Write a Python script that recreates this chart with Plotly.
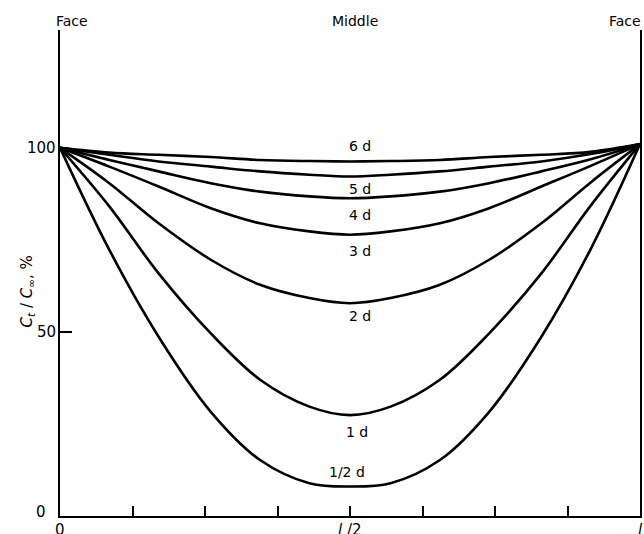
import plotly.graph_objects as go

# position through the slab, as a fraction of thickness l
x_pos = [0, 0.085, 0.17, 0.26, 0.345, 0.43, 0.5, 0.57, 0.655, 0.74, 0.83, 0.915, 1.0]

# C_t / C_inf, %
c_6d = [100, 98.7, 98.1, 97.5, 96.7, 96.4, 96.3, 96.4, 96.7, 97.5, 98.1, 98.9, 101]
c_5d = [100, 98.1, 96.3, 94.9, 93.6, 92.7, 92.2, 92.7, 93.6, 94.9, 96.3, 98.3, 101]
c_4d = [100, 96.7, 93.6, 90.4, 88.1, 86.8, 86.3, 86.8, 88.1, 90.4, 93.6, 96.9, 101]
c_3d = [100, 94.9, 89.5, 83.6, 79.5, 77.3, 76.4, 77.3, 79.5, 83.6, 89.5, 95.1, 101]
c_2d = [100, 90.4, 79.5, 69.6, 62.8, 59.2, 57.8, 59.2, 62.8, 69.6, 79.5, 90.6, 101]
c_1d = [100, 84.1, 65.9, 49.6, 37.0, 29.7, 27.4, 29.7, 37.0, 49.6, 65.9, 84.3, 101]
c_half = [100, 72.3, 48.7, 28.3, 15.2, 8.9, 8.0, 8.9, 15.2, 28.3, 48.7, 72.5, 101]

series = [c_6d, c_5d, c_4d, c_3d, c_2d, c_1d, c_half]
curve_labels = ["6 d", "5 d", "4 d", "3 d", "2 d", "1 d", "1/2 d"]
label_x = [0.517, 0.517, 0.517, 0.517, 0.517, 0.512, 0.495]
label_y = [100.4, 88.8, 81.8, 72.1, 54.2, 22.9, 12.0]

y_tick_vals = [0, 50, 100]
y_tick_text = ["0", "50", "100"]
x_tick_vals = [0, 0.125, 0.25, 0.375, 0.5, 0.625, 0.75, 0.875, 1.0]
x_label_vals = [0, 0.5, 1.0]
x_label_text = ["0", "<i>l</i> /2", "<i>l</i>"]
top_labels = ["Face", "Middle", "Face"]
top_label_x = [0.0, 0.5, 1.0]

FONT = "DejaVu Sans"

fig = go.Figure()
for ys in series:
    fig.add_trace(go.Scatter(
        x=x_pos, y=ys, mode="lines",
        line=dict(color="black", width=2.6, shape="spline", smoothing=1.0),
        showlegend=False, hoverinfo="skip"))

ann = []
for t, xv, yv in zip(curve_labels, label_x, label_y):
    ann.append(dict(x=xv, y=yv, xref="x", yref="y", text=t, showarrow=False,
                    font=dict(family=FONT, size=14, color="black")))
for t, yv in zip(y_tick_text, y_tick_vals):
    ann.append(dict(x=0, y=yv, xref="paper", yref="y", text=t, showarrow=False,
                    xanchor="right", xshift=-2 if t != "0" else -12,
                    yshift=0 if t != "0" else 4,
                    font=dict(family=FONT, size=15, color="black")))
for t, xv in zip(x_label_text, x_label_vals):
    ann.append(dict(x=xv, y=0, xref="x", yref="paper", text=t, showarrow=False,
                    yanchor="top", yshift=-3,
                    font=dict(family=FONT, size=15, color="black")))
for t, xv in zip(top_labels, top_label_x):
    ann.append(dict(x=xv, y=1.0, xref="x", yref="paper", text=t, showarrow=False,
                    yanchor="bottom", yshift=-1,
                    xshift=(12 if xv == 0 else (5 if xv == 0.5 else -15)),
                    font=dict(family=FONT, size=14, color="black")))
ann.append(dict(x=0, y=61, xref="paper", yref="y", xanchor="center", yanchor="middle",
                xshift=-33, textangle=-90, showarrow=False,
                text="<i>C</i><sub><i>t</i></sub> / <i>C</i><sub>∞</sub>, %",
                font=dict(family=FONT, size=15, color="black")))

fig.update_layout(
    width=644, height=534,
    margin=dict(l=60, r=2, t=30, b=18),
    paper_bgcolor="white", plot_bgcolor="white",
    annotations=ann,
    xaxis=dict(range=[0, 1], showgrid=False, zeroline=False,
               showline=True, linecolor="black", linewidth=1.5,
               tickmode="array", tickvals=x_tick_vals, ticks="inside",
               ticklen=10, tickwidth=1.5, tickcolor="black", showticklabels=False),
    yaxis=dict(range=[0, 132], showgrid=False, zeroline=False,
               showline=True, linecolor="black", linewidth=1.5, mirror=True,
               tickmode="array", tickvals=[50], ticks="inside",
               ticklen=12, tickwidth=1.5, tickcolor="black", showticklabels=False),
)

fig.write_html("out.html", config={"displayModeBar": False})

# remove the default page margin so the figure sits at the window's corner
with open("out.html", "r", encoding="utf-8") as f:
    html = f.read()
html = html.replace("<body>", "<body style=\"margin:0;overflow:hidden\">", 1)
with open("out.html", "w", encoding="utf-8") as f:
    f.write(html)
